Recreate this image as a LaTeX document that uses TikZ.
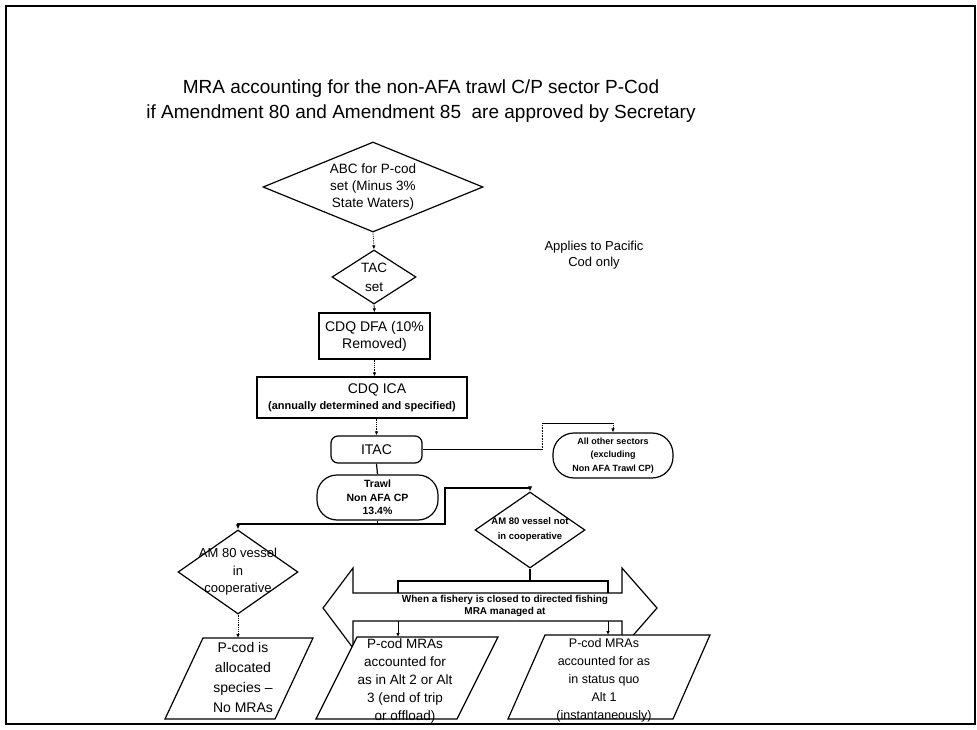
\documentclass[tikz,border=0pt]{standalone}
\usepackage{fontspec}
\setmainfont{Liberation Sans}
\usetikzlibrary{shapes.geometric,arrows.meta}

\begin{document}
\begin{tikzpicture}[x=1pt,y=-1pt,
  every node/.style={inner sep=0pt, align=center},
  shapeline/.style={line width=1.2pt},
  box/.style={draw, shapeline},
  pill/.style={draw, shapeline, rounded corners=#1},
  dia/.style={draw, diamond, shapeline},
  tip/.style={-{Latex[length=4pt,width=3.5pt]}},
  link/.style={line width=0.8pt, tip},
  dotlink/.style={link, densely dotted},
  heavylink/.style={line width=1.8pt},
  heavytip/.style={heavylink, -{Latex[length=5pt,width=4.5pt]}},
  para/.style={draw, shapeline, fill=white}]

% page and frame
\fill[white] (0,0) rectangle (977,730);
\useasboundingbox (0,0) rectangle (977,730);
\draw[line width=2.8pt] (6,6) rectangle (975,724);

% heading
\node[font=\fontsize{19}{24.5}\selectfont] (title) at (421,101)
  {MRA accounting for the non-AFA trawl C/P sector P-Cod\\
   if Amendment 80 and Amendment 85\ \ are approved by Secretary};

% upper chain
\node[dia, shape aspect=2.45, minimum width=220pt, minimum height=90pt,
      font=\fontsize{13.5}{17}\selectfont] (abc) at (373,187)
  {ABC for P-cod\\set (Minus 3\%\\State Waters)};
\node[dia, shape aspect=1.5, minimum width=84pt, minimum height=54pt,
      font=\fontsize{13.5}{19}\selectfont] (tac) at (374,277) {TAC\\set};
\node[box, minimum width=111pt, minimum height=46pt,
      font=\fontsize{14}{17}\selectfont] (dfa) at (374.5,336)
  {CDQ DFA (10\%\\Removed)};
\node[box, minimum width=210pt, minimum height=41pt,
      font=\fontsize{14}{16}\selectfont] (ica) at (362,397.5)
  {\hspace*{30pt}CDQ ICA\\{\bfseries\fontsize{11}{12}\selectfont (annually determined and specified)}};
\node[pill=7, minimum width=91pt, minimum height=27pt,
      font=\fontsize{14}{17}\selectfont] (itac) at (376.5,449.5) {ITAC};
\node[pill=20, minimum width=121pt, minimum height=45pt,
      font=\bfseries\fontsize{10.5}{13.5}\selectfont] (trawl) at (377.5,497.5)
  {Trawl\\Non AFA CP\\13.4\%};
\node[pill=21, minimum width=120pt, minimum height=45pt,
      font=\bfseries\fontsize{9}{13.5}\selectfont] (other) at (613,455.5)
  {All other sectors\\(excluding\\Non AFA Trawl CP)};

\node[font=\fontsize{13}{16}\selectfont] (applies) at (594,255)
  {Applies to Pacific\\Cod only};

% cooperative split
\node[dia, shape aspect=1.5, inner xsep=-3pt, minimum width=110pt, minimum height=76pt,
      font=\bfseries\fontsize{9.5}{15}\selectfont] (notcoop) at (530,530)
  {AM 80 vessel not\\in cooperative};
\node[dia, shape aspect=1.5, inner xsep=-15pt, inner ysep=-5pt,
      minimum width=120pt, minimum height=84pt,
      font=\fontsize{13}{17.5}\selectfont] (coop) at (238,572)
  {AM 80 vessel\\in\\cooperative};

% two-way closure arrow
\draw[shapeline, fill=white] (323,608) -- (353,568) -- (353,593) -- (622,593)
  -- (622,568) -- (657,608) -- (622,648) -- (622,621) -- (353,621)
  -- (353,648) -- cycle;
\draw[shapeline] (398,593) -- (398,581) -- (608,581) -- (608,593);
\node[font=\bfseries\fontsize{10}{11.5}\selectfont] (closed) at (505,606)
  {When a fishery is closed to directed fishing\\MRA managed at};

% outcome boxes
\draw[para] (203,638) -- (313,638) -- (275,719) -- (165,719) -- cycle;
\node[font=\fontsize{14}{20}\selectfont] (alloc) at (243,677)
  {P-cod is\\allocated\\species --\\No MRAs};
\draw[para] (357,637) -- (498,637) -- (457,719) -- (316,719) -- cycle;
\node[font=\fontsize{13.5}{17.8}\selectfont] (midalt) at (405,681)
  {P-cod MRAs\\accounted for\\as in Alt 2 or Alt\\3 (end of trip\\or offload)};
\draw[para] (545,635) -- (710,635) -- (673,719) -- (508,719) -- cycle;
\node[font=\fontsize{12.5}{18}\selectfont] (sqalt) at (604,680)
  {P-cod MRAs\\accounted for as\\in status quo\\Alt 1\\(instantaneously)};

% junction points
\coordinate (elbowA) at (542,449.5);
\coordinate (elbowB) at (542,423);
\coordinate (elbowC) at (613,423);
\coordinate (fork) at (377.5,524);
\coordinate (forkL) at (238,524);
\coordinate (forkR) at (445,524);
\coordinate (riseR) at (445,488);
\coordinate (overR) at (530,488);
\coordinate (gate) at (530,581);
\coordinate (splitL) at (398,621);
\coordinate (splitR) at (608,621);
\coordinate (alloctop) at (238,638);
\coordinate (midtop) at (398,637);
\coordinate (sqtop) at (608,635);

% connectors
\draw[dotlink] (abc.south) -- (tac.north);
\draw[link] (tac.south) -- (dfa.north);
\draw[dotlink] (dfa.south) -- (dfa.south |- ica.north);
\draw[dotlink] (itac.north |- ica.south) -- (itac.north);
\draw[line width=0.9pt] (itac.east) -- (elbowA);
\draw[line width=0.6pt, densely dotted] (elbowA) -- (elbowB);
\draw[line width=0.9pt] (elbowB) -- (elbowC);
\draw[dotlink] (elbowC) -- (other.north);
\draw[shapeline] (itac.south) -- (trawl.north);
\draw[heavylink] (trawl.south) -- (fork);
\draw[heavytip] (fork) -- (forkL) -- (coop.north);
\draw[heavytip] (fork) -- (forkR) -- (riseR) -- (overR) -- (notcoop.north);
\draw[shapeline] (notcoop.south) -- (gate);
\draw[dotlink] (coop.south) -- (alloctop);
\draw[link] (splitL) -- (midtop);
\draw[link] (splitR) -- (sqtop);

\end{tikzpicture}
\end{document}
